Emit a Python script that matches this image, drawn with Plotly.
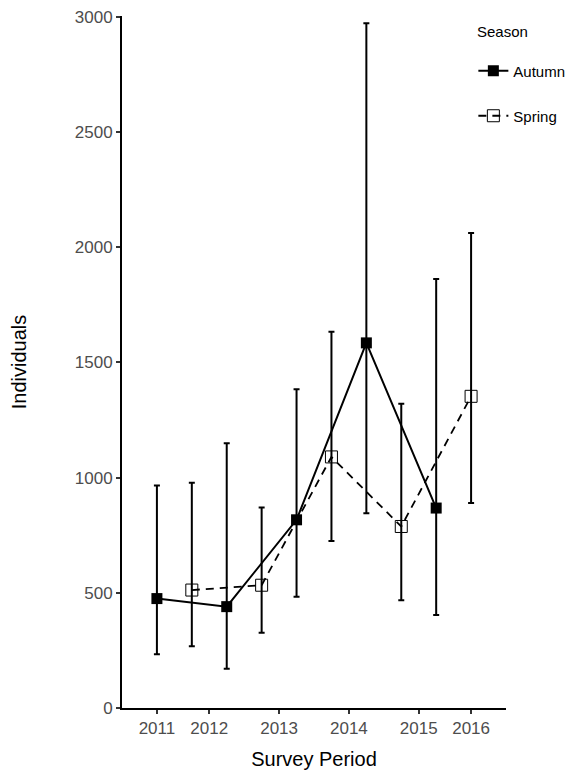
import plotly.graph_objects as go

# Sampling sequence (chronological order of surveys)
autumn_years = [2011, 2012, 2013, 2014, 2015]
autumn_mean = [475, 440, 817, 1585, 868]
autumn_low = [233, 170, 483, 845, 404]
autumn_high = [966, 1149, 1384, 2972, 1862]

spring_years = [2012, 2013, 2014, 2015, 2016]
spring_mean = [512, 533, 1090, 788, 1353]
spring_low = [268, 327, 725, 468, 890]
spring_high = [978, 870, 1633, 1321, 2062]

tick_years = [2011, 2012, 2013, 2014, 2015, 2016]

# Chronological sequence: Autumn 2011, Spring 2012, Autumn 2012, ...
seq = []
for i in range(len(autumn_years)):
    seq.append(("Autumn", autumn_years[i]))
    seq.append(("Spring", spring_years[i]))
pos = {s: i for i, s in enumerate(seq)}

ax = [pos[("Autumn", y)] for y in autumn_years]
sx = [pos[("Spring", y)] for y in spring_years]

tickvals = []
for y in tick_years:
    idx = [i for (s, yy), i in pos.items() if yy == y]
    tickvals.append(sum(idx) / len(idx))

font = "Liberation Sans, Arial, sans-serif"

fig = go.Figure()
fig.add_trace(go.Scatter(
    x=ax, y=autumn_mean, name="Autumn", mode="lines+markers",
    legend="legend",
    line=dict(color="black", width=2),
    marker=dict(symbol="square", size=11, color="black"),
    error_y=dict(type="data", symmetric=False,
                 array=[h - m for h, m in zip(autumn_high, autumn_mean)],
                 arrayminus=[m - l for m, l in zip(autumn_mean, autumn_low)],
                 color="black", thickness=2, width=3),
))
fig.add_trace(go.Scatter(
    x=sx, y=spring_mean, name="Spring", mode="lines+markers",
    legend="legend2",
    line=dict(color="black", width=1.8, dash="8px,6px"),
    marker=dict(symbol="square-open", size=12, color="black", line=dict(width=1)),
    error_y=dict(type="data", symmetric=False,
                 array=[h - m for h, m in zip(spring_high, spring_mean)],
                 arrayminus=[m - l for m, l in zip(spring_mean, spring_low)],
                 color="black", thickness=2, width=3),
))

leg_common = dict(
    xanchor="left", yanchor="middle",
    font=dict(size=15, family=font, color="black"),
    itemwidth=30, bgcolor="rgba(0,0,0,0)",
)

fig.update_layout(
    width=568, height=762,
    margin=dict(l=114, r=70, t=8, b=62, autoexpand=False),
    plot_bgcolor="white", paper_bgcolor="white",
    font=dict(family=font, color="black"),
    showlegend=True,
    legend=dict(x=0.915, y=0.9205, **leg_common),
    legend2=dict(x=0.915, y=0.8555, **leg_common),
    annotations=[dict(
        text="Season", xref="paper", yref="paper", x=0.919, y=0.977,
        xanchor="left", yanchor="middle", showarrow=False,
        font=dict(size=15, family=font, color="black"),
    )],
    xaxis=dict(
        range=[-1.0, 10.0],
        tickvals=tickvals, ticktext=[str(y) for y in tick_years],
        showline=True, linecolor="black", linewidth=2,
        ticks="outside", ticklen=4, tickcolor="#333333", tickwidth=1.5,
        showgrid=False, zeroline=False, ticklabeloverflow="allow",
        tickfont=dict(size=17, color="#4d4d4d"),
        title=dict(text="Survey Period", font=dict(size=20), standoff=17),
    ),
    yaxis=dict(
        range=[0, 3004],
        tickvals=[0, 500, 1000, 1500, 2000, 2500, 3000],
        showline=True, linecolor="black", linewidth=2,
        ticks="outside", ticklen=4, tickcolor="#333333", tickwidth=1.5,
        showgrid=False, zeroline=False, ticklabeloverflow="allow",
        tickfont=dict(size=17, color="#4d4d4d"),
        title=dict(text="Individuals", font=dict(size=20), standoff=43),
    ),
)

fig.write_html("out.html")
